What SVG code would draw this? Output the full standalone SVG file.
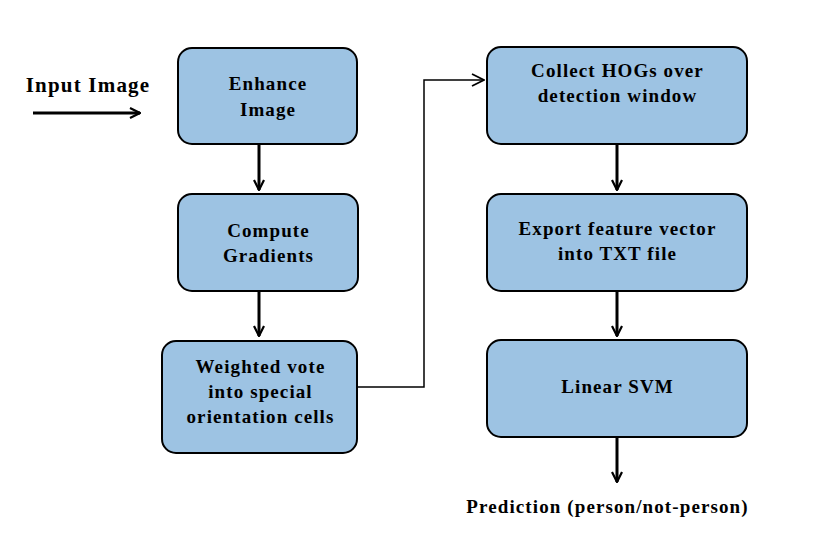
<svg xmlns="http://www.w3.org/2000/svg" width="828" height="548" viewBox="0 0 828 548">
<defs>
<style>
.box{fill:#9dc3e3;stroke:#000;stroke-width:2}
.t{font-family:"Liberation Serif","Times New Roman",serif;font-weight:bold;font-size:19px;letter-spacing:1.1px;fill:#000;text-anchor:middle}
.thick{fill:none;stroke:#000;stroke-width:3}
.thin{fill:none;stroke:#000;stroke-width:1.5}
</style>
<marker id="ah" viewBox="0 0 12 12" refX="11" refY="6" markerWidth="12" markerHeight="12" markerUnits="userSpaceOnUse" orient="auto">
<path d="M1,1 L11,6 L1,11" fill="none" stroke="#000" stroke-width="2.2"/>
</marker>
<marker id="ah2" viewBox="0 0 14 14" refX="13" refY="7" markerWidth="14" markerHeight="14" markerUnits="userSpaceOnUse" orient="auto">
<path d="M1,1 L13,7 L1,13" fill="none" stroke="#000" stroke-width="1.8"/>
</marker>
</defs>
<rect width="828" height="548" fill="#fff"/>
<g id="connectors">
<path class="thick" d="M33,113 H140" marker-end="url(#ah)"/>
<path class="thick" d="M259,145 V190" marker-end="url(#ah)"/>
<path class="thick" d="M259,292 V336" marker-end="url(#ah)"/>
<path class="thin" d="M358,387 H424 V80 H484" marker-end="url(#ah2)"/>
<path class="thick" d="M617,145 V190" marker-end="url(#ah)"/>
<path class="thick" d="M617,292 V336" marker-end="url(#ah)"/>
<path class="thick" d="M617,438 V482" marker-end="url(#ah)"/>
</g>
<g id="input-label"><text class="t" x="88" y="92" style="font-size:21px;letter-spacing:1.2px">Input Image</text></g>
<g id="enhance"><rect class="box" x="178" y="48" width="179" height="96" rx="14"/><text class="t" x="268" y="90">Enhance</text><text class="t" x="268" y="116">Image</text></g>
<g id="gradients"><rect class="box" x="178" y="194" width="180" height="97" rx="14"/><text class="t" x="268.5" y="237">Compute</text><text class="t" x="268.5" y="262">Gradients</text></g>
<g id="vote"><rect class="box" x="162" y="341" width="195" height="112" rx="14"/><text class="t" x="260.5" y="373">Weighted vote</text><text class="t" x="260.5" y="398">into special</text><text class="t" x="260.5" y="423">orientation cells</text></g>
<g id="collect"><rect class="box" x="487" y="47" width="260" height="97" rx="14"/><text class="t" x="617.5" y="77">Collect HOGs over</text><text class="t" x="617.5" y="102">detection window</text></g>
<g id="export"><rect class="box" x="487" y="194" width="260" height="97" rx="14"/><text class="t" x="617.5" y="235">Export feature vector</text><text class="t" x="617.5" y="260">into TXT file</text></g>
<g id="svm"><rect class="box" x="487" y="340" width="260" height="97" rx="14"/><text class="t" x="617.5" y="393">Linear SVM</text></g>
<g id="prediction"><text class="t" x="607.5" y="513">Prediction (person/not-person)</text></g>
</svg>
